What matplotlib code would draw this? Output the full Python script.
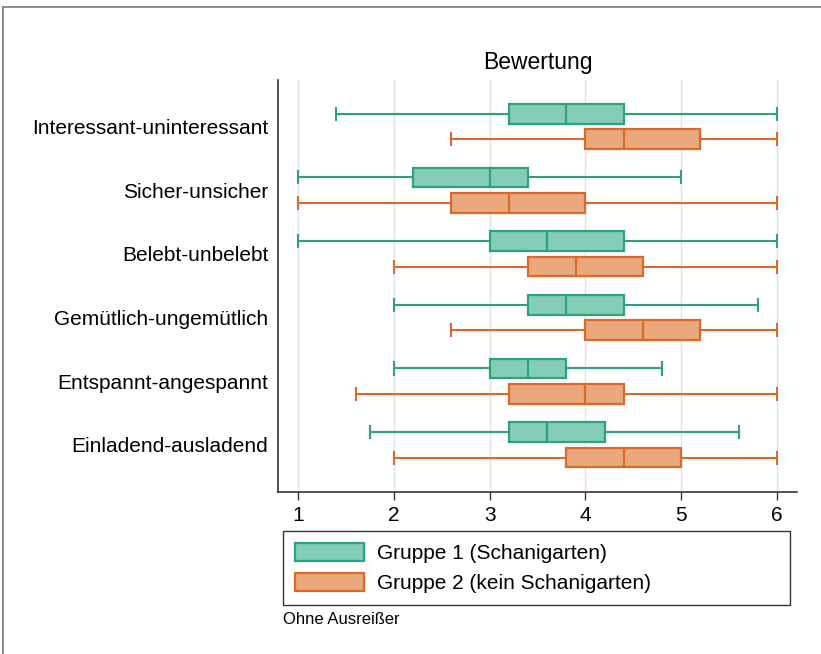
import matplotlib
matplotlib.use('Agg')
import matplotlib.pyplot as plt
from matplotlib.patches import Patch
from matplotlib.lines import Line2D

plt.rcParams['font.family'] = ['Liberation Sans', 'DejaVu Sans']

categories = ['Interessant-uninteressant', 'Sicher-unsicher', 'Belebt-unbelebt',
              'Gemütlich-ungemütlich', 'Entspannt-angespannt', 'Einladend-ausladend']
group_labels = ['Gruppe 1 (Schanigarten)', 'Gruppe 2 (kein Schanigarten)']

# whisker low, q1, median, q3, whisker high
g1_low = [1.4, 1.0, 1.0, 2.0, 2.0, 1.75]
g1_q1 = [3.2, 2.2, 3.0, 3.4, 3.0, 3.2]
g1_med = [3.8, 3.0, 3.6, 3.8, 3.4, 3.6]
g1_q3 = [4.4, 3.4, 4.4, 4.4, 3.8, 4.2]
g1_high = [6.0, 5.0, 6.0, 5.8, 4.8, 5.6]

g2_low = [2.6, 1.0, 2.0, 2.6, 1.6, 2.0]
g2_q1 = [4.0, 2.6, 3.4, 4.0, 3.2, 3.8]
g2_med = [4.4, 3.2, 3.9, 4.6, 4.0, 4.4]
g2_q3 = [5.2, 4.0, 4.6, 5.2, 4.4, 5.0]
g2_high = [6.0, 6.0, 6.0, 6.0, 6.0, 6.0]

edge_cols = ['#2ca27f', '#db6929']
fill_cols = ['#83cdb9', '#e9a97c']

fig = plt.figure(figsize=(8.21, 6.54), dpi=100)
ax = fig.add_axes([278/821, 1-492/654, (797-278)/821, (492-80)/654])

groups = [(g1_low, g1_q1, g1_med, g1_q3, g1_high),
          (g2_low, g2_q1, g2_med, g2_q3, g2_high)]
offsets = [-0.2, 0.2]

for gi, (lo, q1, med, q3, hi) in enumerate(groups):
    stats = []
    for i in range(len(categories)):
        stats.append(dict(whislo=lo[i], q1=q1[i], med=med[i], q3=q3[i],
                          whishi=hi[i], fliers=[]))
    pos = [i + offsets[gi] for i in range(len(categories))]
    ec = edge_cols[gi]
    ax.bxp(stats, positions=pos, vert=False, widths=0.31, capwidths=0.19,
           patch_artist=True, showfliers=False, manage_ticks=False,
           boxprops=dict(facecolor=fill_cols[gi], edgecolor=ec, linewidth=1.6),
           medianprops=dict(color=ec, linewidth=1.6),
           whiskerprops=dict(color=ec, linewidth=1.5),
           capprops=dict(color=ec, linewidth=1.5))

ax.set_ylim(5.74, -0.73)
ax.set_xlim(0.79, 6.21)
ax.set_yticks(range(len(categories)))
ax.set_yticklabels(categories, fontsize=15)
ax.tick_params(axis='y', length=0, pad=7)
ax.set_xticks([1, 2, 3, 4, 5, 6])
ax.tick_params(axis='x', labelsize=15, length=6, width=1, color='#333333', pad=4)
ax.grid(axis='x', color='#e3e3e3', linewidth=1)
ax.set_axisbelow(True)
for s in ['top', 'right']:
    ax.spines[s].set_visible(False)
for s in ['left', 'bottom']:
    ax.spines[s].set_color('#333333')
    ax.spines[s].set_linewidth(1.2)
ax.set_title('Bewertung', fontsize=16.5, pad=8)

handles = [Patch(facecolor=fill_cols[i], edgecolor=edge_cols[i], linewidth=1.6,
                 label=group_labels[i]) for i in range(2)]
leg = fig.legend(handles=handles, loc='lower left', mode='expand',
                 bbox_to_anchor=(283/821, 1-605/654, (790-283)/821, (605-531)/654),
                 fontsize=15, frameon=True, fancybox=False, edgecolor='black',
                 handlelength=3.3, handleheight=0.95, handletextpad=0.65,
                 labelspacing=0.48, borderpad=0.58, borderaxespad=0)
leg.get_frame().set_linewidth(1.0)

fig.text(283/821, 1-620/654, 'Ohne Ausreißer', fontsize=12, va='center', ha='left')

# outer frame (partly cut off)
fig.add_artist(Line2D([3/821, 1.0], [1-7/654, 1-7/654], color='#777777', linewidth=1.2))
fig.add_artist(Line2D([3/821, 3/821], [0, 1-7/654], color='#777777', linewidth=1.2))

fig.savefig('out.png', dpi=100)
